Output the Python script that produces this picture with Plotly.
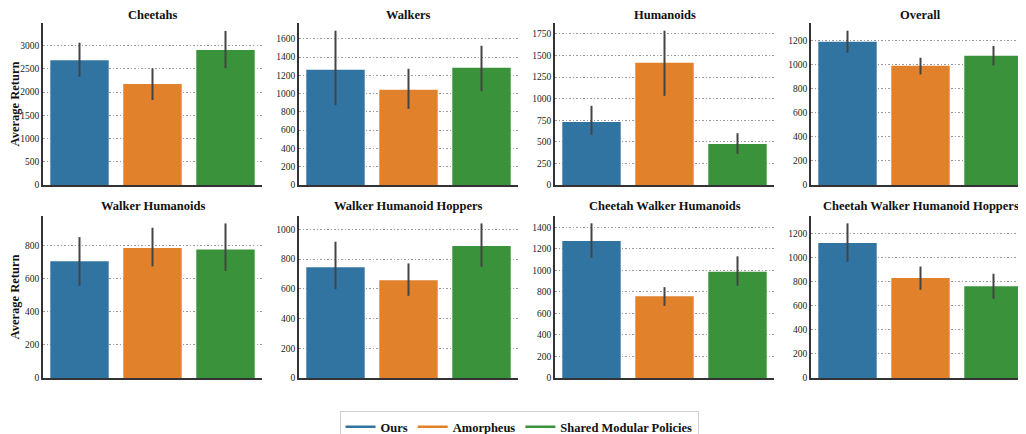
import plotly.graph_objects as go

methods = ["Ours", "Amorpheus", "Shared Modular Policies"]
colors = ["#3274a1", "#e1812c", "#3a923a"]

panels = ["Cheetahs", "Walkers", "Humanoids", "Overall",
          "Walker Humanoids", "Walker Humanoid Hoppers",
          "Cheetah Walker Humanoids", "Cheetah Walker Humanoid Hoppers"]

cheetahs_mean = [2687, 2177, 2909]
cheetahs_lo = [2334, 1832, 2515]
cheetahs_hi = [3066, 2515, 3319]

walkers_mean = [1260, 1041, 1282]
walkers_lo = [873, 833, 1027]
walkers_hi = [1688, 1271, 1523]

humanoids_mean = [731, 1417, 476]
humanoids_lo = [580, 1033, 360]
humanoids_hi = [917, 1788, 600]

overall_mean = [1192, 992, 1075]
overall_lo = [1100, 919, 994]
overall_hi = [1283, 1058, 1156]

wh_mean = [707, 786, 778]
wh_lo = [558, 675, 648]
wh_hi = [852, 909, 935]

whh_mean = [746, 658, 888]
whh_lo = [598, 553, 748]
whh_hi = [917, 771, 1040]

cwh_mean = [1273, 760, 987]
cwh_lo = [1117, 670, 857]
cwh_hi = [1437, 844, 1130]

cwhh_mean = [1119, 829, 762]
cwhh_lo = [964, 732, 657]
cwhh_hi = [1283, 925, 865]

y_max = [3490, 1772, 1877, 1347, 980, 1090, 1505, 1344]
y_dtick = [500, 200, 250, 200, 200, 200, 200, 200]

data = [
    (cheetahs_mean, cheetahs_lo, cheetahs_hi),
    (walkers_mean, walkers_lo, walkers_hi),
    (humanoids_mean, humanoids_lo, humanoids_hi),
    (overall_mean, overall_lo, overall_hi),
    (wh_mean, wh_lo, wh_hi),
    (whh_mean, whh_lo, whh_hi),
    (cwh_mean, cwh_lo, cwh_hi),
    (cwhh_mean, cwhh_lo, cwhh_hi),
]

W, H = 1026, 434
OFF = 8  # page body margin in the browser
col_left = [43 - OFF, 299 - OFF, 555 - OFF, 811 - OFF]
col_w = 219
row_top = [23 - OFF, 216 - OFF]
row_bot = [185 - OFF, 378 - OFF]
title_gap = [7.8, 9.7]

SERIF = "Liberation Serif"
fig = go.Figure()
layout = {}
annotations = []

for i, (name, (m, lo, hi)) in enumerate(zip(panels, data)):
    r, c = divmod(i, 4)
    k = i + 1
    xa = "x" if k == 1 else f"x{k}"
    ya = "y" if k == 1 else f"y{k}"
    fig.add_trace(go.Bar(
        x=methods, y=m, xaxis=xa, yaxis=ya,
        marker=dict(color=colors, line=dict(width=0)),
        width=0.8, showlegend=False,
        error_y=dict(type="data", symmetric=False,
                     array=[h - v for h, v in zip(hi, m)],
                     arrayminus=[v - l for v, l in zip(m, lo)],
                     color="#444444", thickness=2, width=0),
        hoverinfo="skip",
    ))
    x0 = col_left[c] / W
    x1 = min((col_left[c] + col_w) / W, 1.0)
    xr_hi = 2.5 if (col_left[c] + col_w) <= W else -0.5 + 3 * (W - col_left[c]) / col_w
    y0 = (H - row_bot[r]) / H
    y1 = (H - row_top[r]) / H
    layout["xaxis" if k == 1 else f"xaxis{k}"] = dict(
        domain=[x0, x1], anchor=ya, range=[-0.5, xr_hi],
        showticklabels=False, ticks="", showgrid=False, zeroline=False,
        showline=True, linecolor="#333333", linewidth=1.5,
        categoryorder="array", categoryarray=methods,
    )
    layout["yaxis" if k == 1 else f"yaxis{k}"] = dict(
        domain=[y0, y1], anchor=xa, range=[0, y_max[i]], dtick=y_dtick[i],
        showline=True, linecolor="#333333", linewidth=1.5,
        showgrid=True, gridcolor="#9a9a9a", griddash="1.5px,2px", gridwidth=1,
        zeroline=False, ticks="", ticklen=0,
        tickfont=dict(family=SERIF, size=9.5, color="#222222"),
        title=dict(text="<b>Average Return</b>", font=dict(family=SERIF, size=12.5, color="#111111"), standoff=8) if c == 0 else None,
    )
    annotations.append(dict(
        text=f"<b>{name}</b>", xref="paper", yref="paper",
        x=(col_left[c] + col_w / 2) / W, y=(H - (row_top[r] - title_gap[r])) / H,
        xanchor="center", yanchor="middle", showarrow=False, borderpad=0,
        font=dict(family=SERIF, size=12.5, color="#111111"),
    ))

for name, col in zip(methods, colors):
    fig.add_trace(go.Scatter(x=[None], y=[None], mode="lines", name=name,
                             line=dict(color=col, width=2.5), xaxis="x", yaxis="y"))

fig.update_layout(
    width=W, height=H,
    margin=dict(l=0, r=0, t=0, b=0, autoexpand=False),
    paper_bgcolor="white", plot_bgcolor="white",
    barmode="overlay",
    annotations=annotations,
    legend=dict(orientation="h", x=(519 - OFF) / W, xanchor="center", y=-1 / H, yanchor="bottom",
                bordercolor="#d0d0d0", borderwidth=1,
                font=dict(family=SERIF, size=12.5, color="#111111", weight="bold"),
                itemwidth=30, traceorder="normal"),
    **layout,
)

fig.write_html("out.html")
